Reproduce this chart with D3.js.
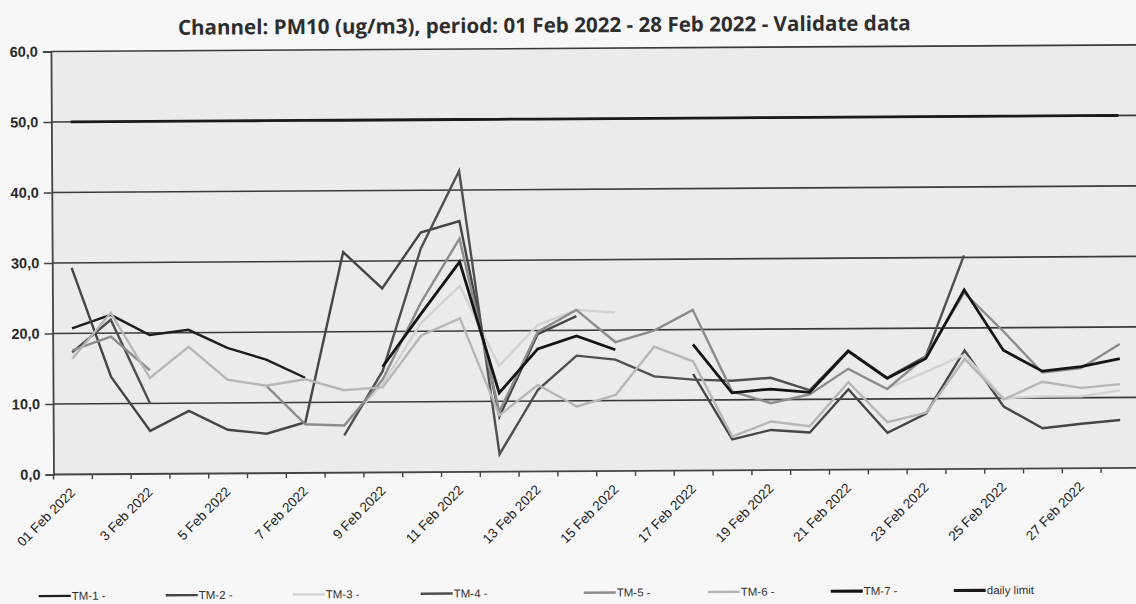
<!DOCTYPE html>
<html><head><meta charset="utf-8">
<script src="https://cdn.jsdelivr.net/npm/d3@7/dist/d3.min.js"></script>
<style>body{margin:0;background:#f7f7f7;} svg{display:block}</style>
</head><body>
<svg id="c" width="1136" height="604"></svg>
<script>
// ---- data ----
const categories = ["01 Feb 2022","2 Feb 2022","3 Feb 2022","4 Feb 2022","5 Feb 2022","6 Feb 2022","7 Feb 2022",
  "8 Feb 2022","9 Feb 2022","10 Feb 2022","11 Feb 2022","12 Feb 2022","13 Feb 2022","14 Feb 2022",
  "15 Feb 2022","16 Feb 2022","17 Feb 2022","18 Feb 2022","19 Feb 2022","20 Feb 2022","21 Feb 2022",
  "22 Feb 2022","23 Feb 2022","24 Feb 2022","25 Feb 2022","26 Feb 2022","27 Feb 2022","28 Feb 2022"];
const tickLabels = ["01 Feb 2022","3 Feb 2022","5 Feb 2022","7 Feb 2022","9 Feb 2022","11 Feb 2022","13 Feb 2022",
  "15 Feb 2022","17 Feb 2022","19 Feb 2022","21 Feb 2022","23 Feb 2022","25 Feb 2022","27 Feb 2022"];
const yTicks = [0,10,20,30,40,50,60];
const title = "Channel: PM10 (ug/m3), period: 01 Feb 2022 - 28 Feb 2022 - Validate data";

const tm1 = [20.7,22.6,19.7,20.4,17.8,16.1,13.5,null,null,null,null,null,null,null,
  null,null,null,null,null,null,null,null,null,null,null,null,null,null];
const tm2 = [29.3,13.8,6.1,8.9,6.2,5.6,7.2,31.3,26.1,34.0,35.6,7.8,19.5,22.0,
  null,null,13.7,4.4,5.7,5.3,11.4,5.2,7.9,16.8,8.8,5.7,6.3,6.8];
const tm3 = [null,null,null,null,null,null,null,6.7,12.6,21.2,26.4,15.0,20.8,22.9,
  22.5,null,null,null,null,null,null,11.5,13.8,16.2,10.0,10.2,10.2,11.0];
const tm4 = [17.3,21.9,10.0,null,null,null,null,5.3,14.4,31.7,42.7,2.5,11.6,16.4,
  15.8,13.4,12.9,12.7,13.1,11.3,16.9,13.0,16.0,30.3,null,null,null,null];
const tm5 = [17.6,19.5,14.7,null,null,12.4,6.9,6.7,13.2,24.1,33.1,8.5,19.8,22.9,
  18.3,19.9,22.8,11.2,9.5,10.7,14.3,11.4,16.0,25.0,19.5,13.6,14.2,17.6];
const tm6 = [16.4,22.9,13.6,18.0,13.3,12.4,13.3,11.7,12.1,19.4,21.8,8.0,12.3,9.2,
  10.8,17.6,15.5,4.8,6.9,6.2,12.4,6.7,8.0,15.6,9.8,12.3,11.4,11.9];
const tm7 = [null,null,null,null,null,null,null,null,15.0,22.5,29.8,11.2,17.4,19.2,
  17.2,null,17.9,11.0,11.5,11.0,16.8,12.9,15.7,25.4,16.8,13.8,14.4,15.5];
const dailyLimit = [50,50,50,50,50,50,50,50,50,50,50,50,50,50,
  50,50,50,50,50,50,50,50,50,50,50,50,50,50];

const seriesNames = ["TM-1 -","TM-2 -","TM-3 -","TM-4 -","TM-5 -","TM-6 -","TM-7 -","daily limit"];
const seriesData = [tm1,tm2,tm3,tm4,tm5,tm6,tm7,dailyLimit];

// ---- styles / layout ----
const colors = ["#1e1e1e","#454545","#d2d2d2","#4f4f4f","#8c8c8c","#b6b6b6","#141414","#1a1a1a"];
const widths = [2.4,2.4,2.4,2.4,2.4,2.4,2.8,2.8];
const legendX = [38,165,292,420,583,707,830,953];

const svg = d3.select("#c");
const root = svg.append("g").attr("transform","rotate(-0.35,53,474)");

const L = 53.5, T = 51.5, B = 474.5, bandW = 38.8;
const x = d3.scaleBand().domain(categories).range([L, L + bandW*categories.length]).paddingInner(0).paddingOuter(0);
const y = d3.scaleLinear().domain([0,60]).range([B, T]);
const cx = d => x(d) + x.bandwidth()/2;

// plot background
root.append("rect").attr("x",L).attr("y",T).attr("width",x.range()[1]-L).attr("height",B-T).attr("fill","#ebebeb");

// grid lines
root.append("g").selectAll("line").data(yTicks.filter(v=>v>0)).join("line")
  .attr("x1",L).attr("x2",x.range()[1]).attr("y1",d=>y(d)).attr("y2",d=>y(d))
  .attr("stroke","#3a3a3a").attr("stroke-width",1.6);

// y axis
const fmt = v => d3.format(".1f")(v).replace(".",",");
const yAxis = root.append("g").attr("transform",`translate(${L},0)`)
  .call(d3.axisLeft(y).tickValues(yTicks).tickFormat(fmt).tickSize(8).tickPadding(5));
yAxis.select(".domain").attr("stroke","#444").attr("stroke-width",1.8);
yAxis.selectAll(".tick line").attr("stroke","#444").attr("stroke-width",1.6);
yAxis.selectAll("text").attr("font-family","Liberation Sans, Arial, sans-serif").attr("font-size",14.5)
  .attr("font-weight","bold").attr("fill","#2a2a2a");

// x axis (category boundary ticks)
const xAxisG = root.append("g").attr("transform",`translate(0,${B})`);
xAxisG.append("line").attr("x1",L).attr("x2",x.range()[1]).attr("stroke","#444").attr("stroke-width",1.8);
const bounds = categories.map(c=>x(c)).concat([x.range()[1]]);
xAxisG.selectAll("line.tk").data(bounds).join("line").attr("class","tk")
  .attr("x1",d=>d).attr("x2",d=>d).attr("y1",0).attr("y2",5).attr("stroke","#444").attr("stroke-width",1.4);
const labelCats = categories.filter(c => tickLabels.includes(c));
xAxisG.selectAll("text").data(labelCats).join("text")
  .attr("transform",d=>`translate(${cx(d)+3},19) rotate(-45)`)
  .attr("text-anchor","end")
  .attr("font-family","Liberation Sans, Arial, sans-serif").attr("font-size",13.5).attr("fill","#222")
  .text(d=>d);

// series lines
const line = d3.line().defined(d=>d.v!=null).x(d=>cx(d.c)).y(d=>y(d.v));
seriesData.forEach((arr,i)=>{
  const pts = arr.map((v,j)=>({c:categories[j], v}));
  root.append("path").datum(pts).attr("d",line).attr("fill","none")
    .attr("stroke",colors[i]).attr("stroke-width",widths[i]).attr("stroke-linejoin","miter").attr("stroke-linecap","butt");
});

// title
const t = root.append("text").attr("x",547).attr("y",35.5).attr("text-anchor","middle")
  .attr("font-family","Open Sans, sans-serif").attr("font-weight","bold").attr("font-size",16).attr("fill","#2e2e2e").text(title);
const tw = t.node().getComputedTextLength();
t.attr("font-size", 16*733/tw);

// legend
const lg = root.append("g").attr("transform","translate(0,596)");
seriesNames.forEach((n,i)=>{
  const g = lg.append("g").attr("transform",`translate(${legendX[i]},0)`);
  g.append("line").attr("x1",0).attr("x2",32).attr("y1",0).attr("y2",0).attr("stroke",colors[i]).attr("stroke-width",i>=6?3.2:2.4);
  g.append("text").attr("x",33).attr("y",4).attr("font-family","Liberation Sans, Arial, sans-serif")
    .attr("font-size",11.5).attr("fill","#333").text(n);
});
</script>
</body></html>
